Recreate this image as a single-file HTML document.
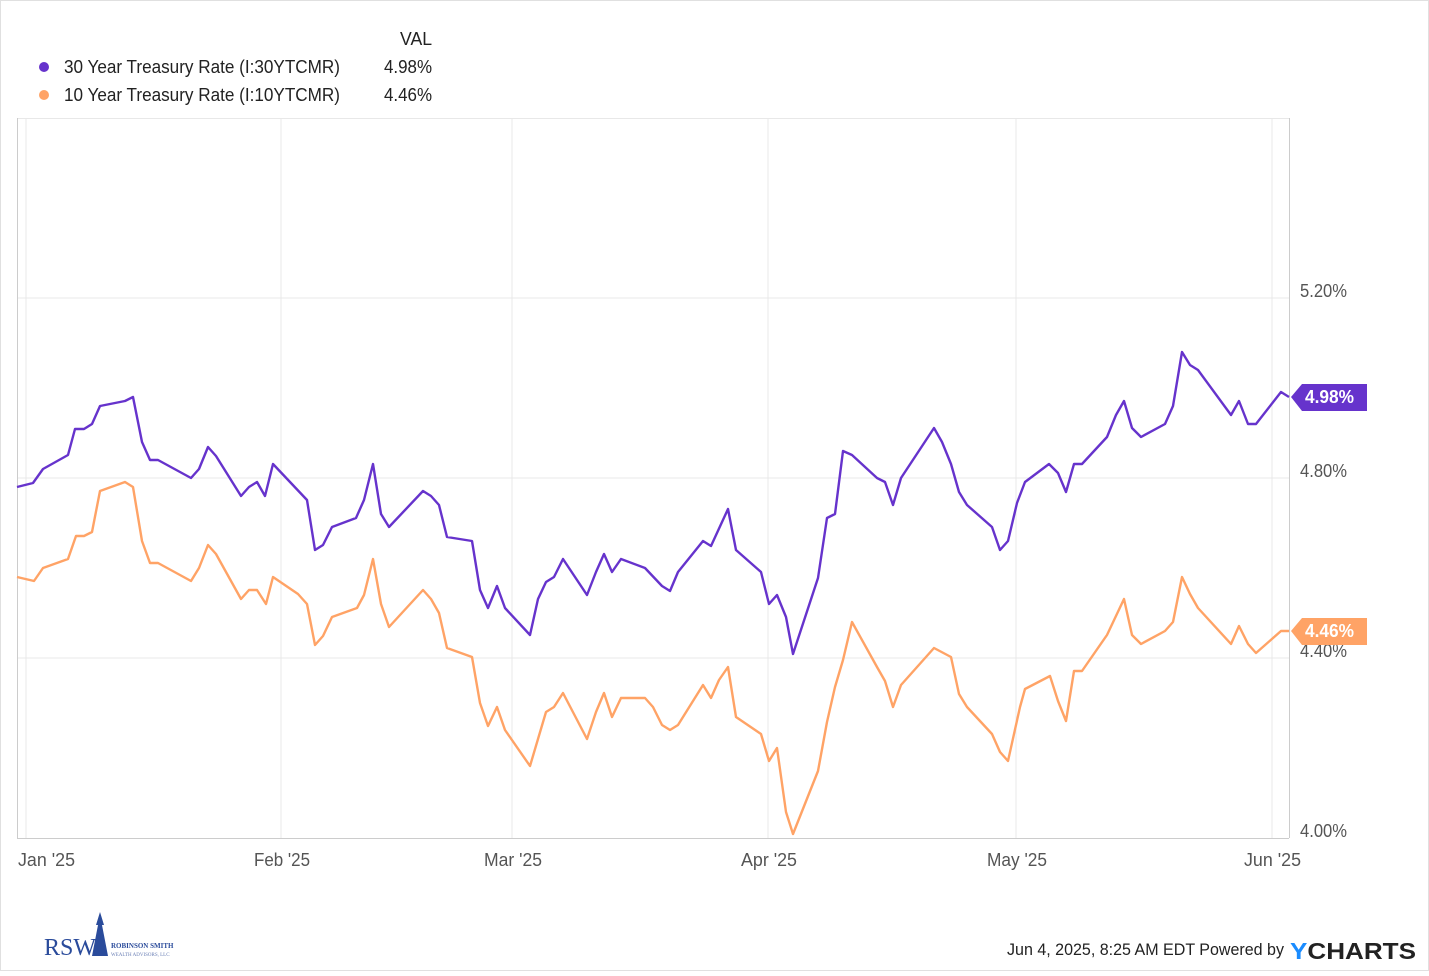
<!DOCTYPE html>
<html><head><meta charset="utf-8"><style>
html,body{margin:0;padding:0;background:#fff}
body{width:1429px;height:971px;overflow:hidden;font-family:"Liberation Sans",sans-serif}
</style></head><body>
<svg width="1429" height="971" xmlns="http://www.w3.org/2000/svg" font-family="Liberation Sans, sans-serif">
<rect x="0.5" y="0.5" width="1428" height="970" fill="#fff" stroke="#e0e0e0"/>
<text x="400" y="45" font-size="18" fill="#222" textLength="32" lengthAdjust="spacingAndGlyphs">VAL</text>
<circle cx="44" cy="67" r="5" fill="#6633cc"/>
<text x="64" y="73" font-size="18" fill="#222" textLength="276" lengthAdjust="spacingAndGlyphs">30 Year Treasury Rate (I:30YTCMR)</text>
<text x="384" y="73" font-size="18" fill="#222" textLength="48" lengthAdjust="spacingAndGlyphs">4.98%</text>
<circle cx="44" cy="95" r="5" fill="#ffa366"/>
<text x="64" y="101" font-size="18" fill="#222" textLength="276" lengthAdjust="spacingAndGlyphs">10 Year Treasury Rate (I:10YTCMR)</text>
<text x="384" y="101" font-size="18" fill="#222" textLength="48" lengthAdjust="spacingAndGlyphs">4.46%</text>
<g stroke="#e8e8e8" stroke-width="1">
<line x1="26" y1="118" x2="26" y2="838"/><line x1="281" y1="118" x2="281" y2="838"/><line x1="512" y1="118" x2="512" y2="838"/><line x1="768" y1="118" x2="768" y2="838"/><line x1="1016" y1="118" x2="1016" y2="838"/><line x1="1272" y1="118" x2="1272" y2="838"/>
<line x1="17" y1="298" x2="1289" y2="298"/><line x1="17" y1="478" x2="1289" y2="478"/><line x1="17" y1="658" x2="1289" y2="658"/>
<line x1="17" y1="118.5" x2="1289" y2="118.5"/>
</g>
<line x1="17.5" y1="118" x2="17.5" y2="838" stroke="#ccc"/>
<line x1="1289.5" y1="118" x2="1289.5" y2="838" stroke="#ccc"/>
<line x1="17" y1="838.5" x2="1289" y2="838.5" stroke="#ccc"/>
<g font-size="18" fill="#555" lengthAdjust="spacingAndGlyphs">
<text x="1300" y="297" textLength="47" lengthAdjust="spacingAndGlyphs">5.20%</text><text x="1300" y="477" textLength="47" lengthAdjust="spacingAndGlyphs">4.80%</text><text x="1300" y="657" textLength="47" lengthAdjust="spacingAndGlyphs">4.40%</text><text x="1300" y="837" textLength="47" lengthAdjust="spacingAndGlyphs">4.00%</text>
<text x="18" y="866" textLength="57" lengthAdjust="spacingAndGlyphs">Jan '25</text><text x="254" y="866" textLength="56" lengthAdjust="spacingAndGlyphs">Feb '25</text><text x="484" y="866" textLength="58" lengthAdjust="spacingAndGlyphs">Mar '25</text><text x="741" y="866" textLength="56" lengthAdjust="spacingAndGlyphs">Apr '25</text><text x="987" y="866" textLength="60" lengthAdjust="spacingAndGlyphs">May '25</text><text x="1244" y="866" textLength="57" lengthAdjust="spacingAndGlyphs">Jun '25</text>
</g>
<polyline fill="none" stroke="#6633cc" stroke-width="2.4" stroke-linejoin="round" points="17,487 33,483 43,469 68,455 75,429 84,429 92,424 100,406 125,401 133,397 142,442 150,460 158,460 191,478 199,469 208,447 216,456 241,496 249,487 257,482 265,496 273,464 307,500 315,550 323,545 332,527 356,518 364,500 373,464 381,514 389,527 423,491 431,496 439,505 447,537 472,541 480,590 488,608 497,586 505,608 530,635 538,599 546,582 554,577 563,559 587,595 596,572 604,554 612,572 621,559 645,568 662,586 670,591 678,572 703,541 711,546 728,509 736,550 761,572 769,604 777,595 786,617 793,654 818,578 827,518 835,514 843,451 852,455 877,478 885,482 893,505 901,478 934,428 942,442 951,464 959,492 967,505 992,527 1000,550 1008,541 1017,503 1025,482 1049,464 1058,473 1066,492 1074,464 1082,464 1107,437 1116,415 1124,401 1132,428 1141,437 1165,424 1173,406 1182,352 1190,365 1198,370 1231,415 1239,401 1248,424 1256,424 1281,392 1289,397"/>
<polyline fill="none" stroke="#ffa366" stroke-width="2.4" stroke-linejoin="round" points="17,577 34,581 43,568 68,559 76,536 84,536 92,532 100,491 125,482 133,487 142,541 150,563 158,563 191,581 199,568 208,545 216,554 241,599 249,590 257,590 266,604 273,577 298,594 307,604 315,645 323,636 332,617 357,608 364,595 373,559 381,604 389,627 423,590 431,599 439,613 447,648 472,657 480,703 488,726 497,707 505,730 530,766 546,712 554,707 563,693 587,739 596,712 604,693 612,717 621,698 645,698 653,707 662,725 670,730 678,725 703,685 711,698 719,680 728,667 736,717 761,734 769,761 777,748 786,812 793,834 818,771 827,722 835,687 843,660 852,622 877,667 885,681 893,707 901,685 934,648 951,657 959,694 967,707 992,734 1000,752 1008,761 1020,707 1025,689 1050,676 1058,701 1066,721 1074,671 1082,671 1107,635 1124,599 1132,635 1141,644 1165,631 1173,622 1182,577 1190,594 1198,608 1231,644 1239,626 1248,644 1256,653 1281,631 1289,631"/>
<polygon points="1291,397 1302,384 1367,384 1367,411 1302,411" fill="#6633cc"/>
<text x="1305" y="403" font-size="18" font-weight="bold" fill="#fff" textLength="49" lengthAdjust="spacingAndGlyphs">4.98%</text>
<polygon points="1291,631 1302,618 1367,618 1367,645 1302,645" fill="#ffa366"/>
<text x="1305" y="637" font-size="18" font-weight="bold" fill="#fff" textLength="49" lengthAdjust="spacingAndGlyphs">4.46%</text>
<text x="44" y="955" font-size="24" font-family="Liberation Serif, serif" fill="#2a4b9b">RSW</text>
<polygon points="92,956 98,925 96,925 100,912 104,925 102,925 108,956" fill="#2a4b9b"/>
<text x="111" y="948" font-size="7" font-weight="bold" font-family="Liberation Serif, serif" fill="#2a4b9b">ROBINSON SMITH</text>
<text x="111" y="956" font-size="5" font-family="Liberation Serif, serif" fill="#6a7fb5">WEALTH ADVISORS, LLC</text>
<text x="1007" y="955" font-size="17" fill="#222" textLength="277" lengthAdjust="spacingAndGlyphs">Jun 4, 2025, 8:25 AM EDT Powered by</text>
<text x="1290" y="959" font-size="23" font-weight="bold" fill="#222" textLength="126" lengthAdjust="spacingAndGlyphs"><tspan fill="#1a8cff">Y</tspan>CHARTS</text>
</svg>
</body></html>
